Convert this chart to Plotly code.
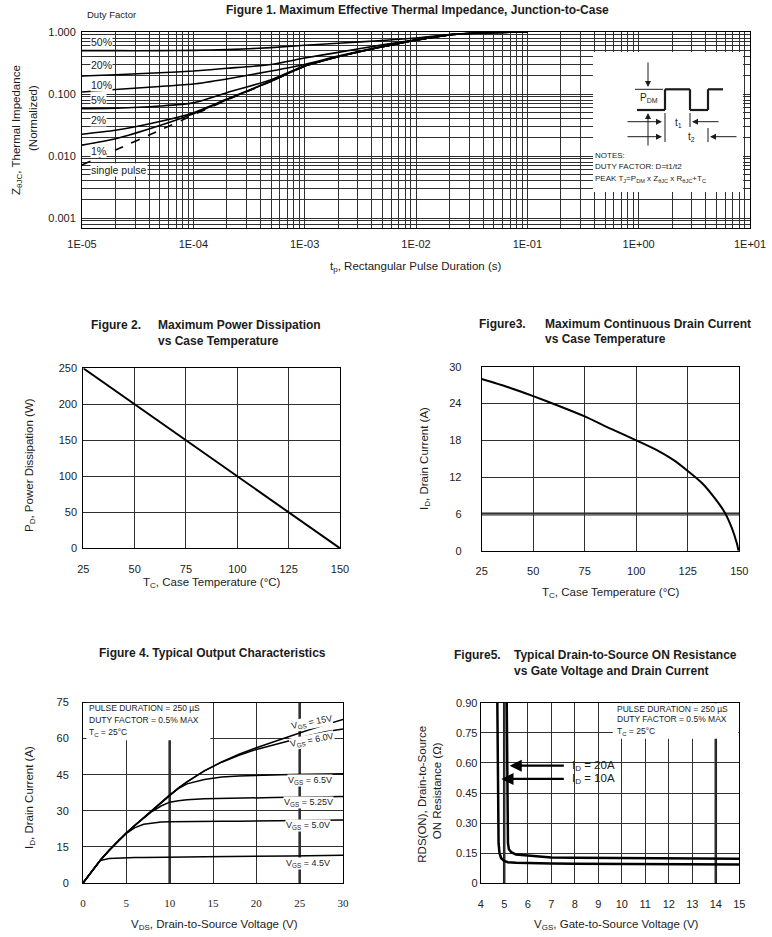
import plotly.graph_objects as go

W, H = 772, 937
FONT = "Liberation Sans"
SERIF = "Liberation Serif"
INK = "#1b1b1b"
GRID = "#303030"

# ---------------- Figure 1: transient thermal impedance ----------------
pulse_duration_s = [1e-5, 2e-5, 5e-5, 1e-4, 2e-4, 5e-4, 1e-3, 2e-3, 5e-3, 1e-2, 2e-2, 5e-2, 1e-1]
zth_d50 = [0.50, 0.50, 0.50, 0.505, 0.52, 0.56, 0.61, 0.66, 0.73, 0.80, 0.91, 0.98, 1.0]
zth_d20 = [0.195, 0.205, 0.22, 0.235, 0.26, 0.30, 0.38, 0.47, 0.62, 0.75, 0.90, 0.98, 1.0]
zth_d10 = [0.108, 0.118, 0.132, 0.145, 0.175, 0.235, 0.30, 0.41, 0.59, 0.745, 0.90, 0.98, 1.0]
zth_d05 = [0.058, 0.059, 0.064, 0.072, 0.105, 0.17, 0.285, 0.40, 0.58, 0.74, 0.90, 0.98, 1.0]
zth_d02 = [0.0225, 0.026, 0.036, 0.050, 0.083, 0.162, 0.282, 0.40, 0.58, 0.74, 0.90, 0.98, 1.0]
zth_d01 = [0.0150, 0.019, 0.031, 0.048, 0.081, 0.161, 0.281, 0.40, 0.58, 0.74, 0.90, 0.98, 1.0]
zth_single = [0.0072, 0.0125, 0.026, 0.046, 0.080, 0.16, 0.28, 0.40, 0.58, 0.74, 0.90, 0.98, 1.0]
duty_labels = ["50%", "20%", "10%", "5%", "2%", "1%", "single pulse"]
f1_xtick_vals = [1e-5, 1e-4, 1e-3, 1e-2, 1e-1, 1e0, 1e1]
f1_xtick_text = ["1E-05", "1E-04", "1E-03", "1E-02", "1E-01", "1E+00", "1E+01"]
f1_ytick_vals = [0.001, 0.01, 0.1, 1.0]
f1_ytick_text = ["0.001", "0.010", "0.100", "1.000"]

# ---------------- Figure 2: power dissipation ----------------
case_temp_pd = [25, 50, 75, 100, 125, 150]
power_diss_w = [250, 200, 150, 100, 50, 0]

# ---------------- Figure 3: max continuous drain current ----------------
case_temp_id = [25, 37.5, 50, 62.5, 75, 87.5, 100, 110, 118, 125, 132, 138, 143, 146.5, 148.8, 149.6]
drain_current_max = [28.0, 26.7, 25.2, 23.6, 21.9, 19.9, 18.0, 16.4, 14.8, 13.0, 11.0, 8.6, 6.2, 3.6, 1.2, 0.0]

# ---------------- Figure 4: output characteristics ----------------
vds_v = [0, 1, 2, 3, 4, 5, 6, 7, 8, 9, 10, 11, 12, 14, 16, 18, 20, 22, 24, 26, 28, 30]
id_vgs15 = [0, 4.8, 9.5, 13.5, 17.3, 20.8, 24.0, 27.1, 30.3, 33.5, 36.6, 39.4, 42.0, 46.6, 50.3, 53.5, 56.2, 58.7, 61.2, 63.6, 65.8, 68.0]
id_vgs60 = [0, 4.8, 9.5, 13.5, 17.3, 20.8, 24.0, 27.1, 30.3, 33.5, 36.6, 39.4, 42.0, 46.6, 50.2, 53.1, 55.5, 57.5, 59.4, 61.2, 62.8, 64.0]
id_vgs65 = [0, 4.8, 9.5, 13.5, 17.3, 20.8, 24.0, 27.1, 30.3, 33.5, 36.6, 39.2, 41.2, 43.0, 44.0, 44.5, 44.8, 45.0, 45.1, 45.2, 45.3, 45.4]
id_vgs525 = [0, 4.8, 9.5, 13.5, 17.3, 20.8, 24.0, 27.0, 29.8, 32.0, 33.6, 34.2, 34.6, 35.0, 35.2, 35.3, 35.4, 35.5, 35.6, 35.7, 35.8, 35.9]
id_vgs50 = [0, 4.8, 9.5, 13.5, 17.3, 20.6, 23.0, 24.4, 25.0, 25.3, 25.4, 25.5, 25.5, 25.6, 25.7, 25.7, 25.8, 25.9, 26.0, 26.0, 26.1, 26.2]
id_vgs45 = [0, 4.8, 9.3, 10.2, 10.4, 10.5, 10.6, 10.6, 10.7, 10.7, 10.7, 10.8, 10.8, 10.9, 10.9, 11.0, 11.0, 11.1, 11.2, 11.3, 11.4, 11.5]
vgs_labels = ["15V", "6.0V", "6.5V", "5.25V", "5.0V", "4.5V"]

# ---------------- Figure 5: on-resistance vs gate voltage ----------------
vgs_id10 = [4.70, 4.72, 4.74, 4.76, 4.80, 4.87, 5.0, 5.15, 5.5, 6, 7, 8, 9, 10, 11, 12, 13, 14, 15]
rds_id10 = [1.0, 0.60, 0.30, 0.20, 0.15, 0.125, 0.112, 0.105, 0.102, 0.100, 0.099, 0.098, 0.097, 0.097, 0.096, 0.096, 0.095, 0.095, 0.094]
vgs_id20 = [5.10, 5.12, 5.14, 5.16, 5.20, 5.30, 5.5, 6, 6.5, 7, 8, 9, 10, 11, 12, 13, 14, 15]
rds_id20 = [1.0, 0.60, 0.30, 0.20, 0.17, 0.155, 0.143, 0.138, 0.135, 0.129, 0.127, 0.126, 0.126, 0.125, 0.124, 0.123, 0.122, 0.122]
f5_ytick_vals = [0, 0.15, 0.30, 0.45, 0.60, 0.75, 0.90]
f5_ytick_text = ["0", "0.15", "0.30", "0.45", "0.60", "0.75", "0.90"]


def px(x):
    return x / W


def py(y):
    return 1 - y / H


fig = go.Figure()


def line(x, y, ax, width=1.6, shape="linear", dash="solid"):
    fig.add_trace(go.Scatter(
        x=x, y=y, xaxis="x" + ax, yaxis="y" + ax, mode="lines",
        line=dict(color="black", width=width, shape=shape, smoothing=0.6, dash=dash),
        showlegend=False, hoverinfo="skip"))


# Figure 1 traces
for z in [zth_d50, zth_d20, zth_d10, zth_d05, zth_d02, zth_d01]:
    line(pulse_duration_s, z, "", width=1.6, shape="spline")
line(pulse_duration_s, zth_single, "", width=1.6, shape="spline", dash="dash")
# Figure 2
line(case_temp_pd, power_diss_w, "2", width=2)
# Figure 3
line(case_temp_id, drain_current_max, "3", width=2, shape="spline")
# Figure 4
for cur in [id_vgs15, id_vgs60, id_vgs65, id_vgs525, id_vgs50, id_vgs45]:
    line(vds_v, cur, "4", width=1.5)
# Figure 5
line(vgs_id10, rds_id10, "5", width=2.5)
line(vgs_id20, rds_id20, "5", width=2.5)

common = dict(showline=True, mirror=True, linecolor="black", linewidth=1,
              showgrid=True, gridcolor=GRID, gridwidth=1, zeroline=False,
              ticks="", fixedrange=True, automargin=False,
              tickfont=dict(family=FONT, size=11, color=INK))

minor_x1 = [k * 10.0 ** e for e in range(-5, 1) for k in range(2, 10)]
minor_y1 = [k * 10.0 ** e for e in range(-4, 0) for k in range(2, 10) if k * 10.0 ** e > 6.9e-4]

layout = dict(
    width=W, height=H, autosize=False,
    margin=dict(l=0, r=0, t=0, b=0, pad=0, autoexpand=False),
    paper_bgcolor="white", plot_bgcolor="white", hovermode=False,
    xaxis=dict(domain=[px(82), px(750)], anchor="y", type="log", range=[-5, 1],
               tickvals=f1_xtick_vals, ticktext=f1_xtick_text, ticklabelstandoff=6,
               minor=dict(tickvals=minor_x1, showgrid=True, gridcolor=GRID, gridwidth=1),
               **common),
    yaxis=dict(domain=[py(228), py(32)], anchor="x", type="log", range=[-3.16, 0],
               tickvals=f1_ytick_vals, ticktext=f1_ytick_text, ticklabelstandoff=3,
               minor=dict(tickvals=minor_y1, showgrid=True, gridcolor=GRID, gridwidth=1),
               **common),
    xaxis2=dict(domain=[px(83.3), px(340)], anchor="y2", range=[25, 150], tick0=25, dtick=25,
                ticklabelstandoff=10, **common),
    yaxis2=dict(domain=[py(548.3), py(368.3)], anchor="x2", range=[0, 250], dtick=50,
                ticklabelstandoff=3, **common),
    xaxis3=dict(domain=[px(481.7), px(739.3)], anchor="y3", range=[25, 150], tick0=25, dtick=25,
                ticklabelstandoff=10, **common),
    yaxis3=dict(domain=[py(550.7), py(366.7)], anchor="x3", range=[0, 30], dtick=6,
                ticklabelstandoff=17, **common),
    xaxis4=dict(domain=[px(83), px(343)], anchor="y4", range=[0, 30], dtick=5,
                ticklabelstandoff=10,
                **{**common, "tickfont": dict(family=SERIF, size=11, color=INK)}),
    yaxis4=dict(domain=[py(883), py(702.5)], anchor="x4", range=[0, 75], dtick=15,
                ticklabelstandoff=11, **common),
    xaxis5=dict(domain=[px(480.7), px(739.3)], anchor="y5", range=[4, 15], dtick=1,
                ticklabelstandoff=10, **common),
    yaxis5=dict(domain=[py(883.3), py(702.7)], anchor="x5", range=[0, 0.9],
                tickvals=f5_ytick_vals, ticktext=f5_ytick_text, ticklabelstandoff=0, **common),
)

shapes = []
ann = []


def text(x, y, s, size=11, xanchor="center", bold=False, angle=0, bg=None, family=FONT):
    a = dict(xref="paper", yref="paper", x=px(x), y=py(y), text=("<b>%s</b>" % s) if bold else s,
             showarrow=False, xanchor=xanchor, yanchor="middle", textangle=angle,
             font=dict(size=size, family=family, color=INK), borderpad=0)
    if bg:
        a["bgcolor"] = bg
    ann.append(a)


def seg(x0, y0, x1, y1, w=1.0):
    shapes.append(dict(type="line", xref="paper", yref="paper", x0=px(x0), y0=py(y0),
                       x1=px(x1), y1=py(y1), line=dict(color=INK, width=w), layer="above"))


def arrow(hx, hy, tx, ty, w=1.0, size=1.2):
    ann.append(dict(xref="paper", yref="paper", x=px(hx), y=py(hy), ax=tx - hx, ay=ty - hy,
                    axref="pixel", ayref="pixel", text="", showarrow=True, arrowhead=2,
                    arrowsize=size, arrowwidth=w, arrowcolor=INK))


# ---- emphasized grid lines (under the regular grid) ----
shapes.append(dict(type="line", xref="x3 domain", yref="y3", x0=0, x1=1, y0=6, y1=6,
                   line=dict(color="#6e6e6e", width=3.5), layer="below"))
shapes.append(dict(type="line", xref="x4", yref="y4 domain", x0=10, x1=10, y0=0, y1=1,
                   line=dict(color="#222", width=2.5), layer="below"))
shapes.append(dict(type="line", xref="x4", yref="y4 domain", x0=25, x1=25, y0=0, y1=1,
                   line=dict(color="#222", width=2.5), layer="below"))
shapes.append(dict(type="line", xref="x5", yref="y5 domain", x0=5, x1=5, y0=0, y1=1,
                   line=dict(color="#222", width=2.5), layer="below"))
shapes.append(dict(type="line", xref="x5", yref="y5 domain", x0=14, x1=14, y0=0, y1=1,
                   line=dict(color="#222", width=2.5), layer="below"))
# ---- white boxes that hide the grid behind notes ----
shapes.append(dict(type="rect", xref="x domain", yref="y domain", x0=0.765, x1=0.9895,
                   y0=0.184, y1=0.898, fillcolor="white", line=dict(width=0), layer="above"))
shapes.append(dict(type="rect", xref="x4", yref="y4", x0=0.4, x1=14.7, y0=59.3, y1=74.85,
                   fillcolor="white", line=dict(width=0), layer="above"))
shapes.append(dict(type="rect", xref="x5", yref="y5", x0=9.62, x1=14.96, y0=0.72, y1=0.897,
                   fillcolor="white", line=dict(width=0), layer="above"))

# ---- Figure 1 texts ----
text(417, 10, "Figure 1. Maximum Effective Thermal Impedance, Junction-to-Case", 12, bold=True)
text(86, 15, "Duty Factor", 9.5, xanchor="left")
for lab, yy in zip(duty_labels, [42, 65, 85, 100, 120, 151, 170]):
    text(90, yy, lab, 10.5, xanchor="left", bg="white")
text(415, 267, "t<sub>p</sub>, Rectangular Pulse Duration (s)", 11.5)
text(17, 130, "Z<sub>θJC</sub>, Thermal Impedance", 11.5, angle=-90)
text(33, 118, "(Normalized)", 11.5, angle=-90)

# inset pulse diagram
seg(635, 89.3, 663, 89.3, 1)
for (a, b, c, d) in [(637, 110, 665, 110), (665, 110, 665, 89.3), (665, 89.3, 690, 89.3),
                     (690, 89.3, 690, 110), (690, 110, 708, 110), (708, 110, 708, 89.3),
                     (708, 89.3, 723, 89.3)]:
    seg(a, b, c, d, 2.2)
seg(665, 113, 665, 142, 1)
seg(690, 113, 690, 127, 1)
seg(708, 128, 708, 142, 1)
arrow(648, 87, 648, 61)
arrow(648, 113, 648, 147)
arrow(662, 121.7, 626, 121.7)
arrow(692, 121.7, 720, 121.7)
arrow(662, 136.7, 626, 136.7)
arrow(710, 136.7, 738, 136.7)
text(649, 98.3, "P<sub>DM</sub>", 10)
text(678, 123.3, "t<sub>1</sub>", 10)
text(691, 136.7, "t<sub>2</sub>", 10)
text(593.5, 156, "NOTES:", 8, xanchor="left")
text(593.5, 166.7, "DUTY FACTOR: D=t1/t2", 8, xanchor="left")
text(593.5, 179, "PEAK T<sub>J</sub>=P<sub>DM</sub> x Z<sub>θJC</sub> x R<sub>θJC</sub>+T<sub>C</sub>", 8, xanchor="left")

# ---- Figure 2 texts ----
text(90, 325, "Figure 2.", 12, xanchor="left", bold=True)
text(157, 325, "Maximum Power Dissipation", 12, xanchor="left", bold=True)
text(157, 340.7, "vs Case Temperature", 12, xanchor="left", bold=True)
text(212.5, 583, "T<sub>C</sub>, Case Temperature (°C)", 11.5)
text(30, 465, "P<sub>D</sub>, Power Dissipation (W)", 11.5, angle=-90)

# ---- Figure 3 texts ----
text(478.3, 324, "Figure3.", 12, xanchor="left", bold=True)
text(544, 324, "Maximum Continuous Drain Current", 12, xanchor="left", bold=True)
text(544, 339.3, "vs Case Temperature", 12, xanchor="left", bold=True)
text(610.5, 593, "T<sub>C</sub>, Case Temperature (°C)", 11.5)
text(425, 458, "I<sub>D</sub>, Drain Current (A)", 11.5, angle=-90)

# ---- Figure 4 texts ----
text(212.5, 653, "Figure 4. Typical Output Characteristics", 12, bold=True)
text(214, 925, "V<sub>DS</sub>, Drain-to-Source Voltage (V)", 11.5)
text(30, 798, "I<sub>D</sub>, Drain Current (A)", 11.5, angle=-90)
text(88, 708, "PULSE DURATION = 250 µS", 8.5, xanchor="left")
text(88, 719.7, "DUTY FACTOR = 0.5% MAX", 8.5, xanchor="left")
text(88, 732, "T<sub>C</sub> = 25°C", 8.5, xanchor="left")
for lab, xx, yy, ang in zip(vgs_labels, [26.4, 26.4, 26.2, 26.0, 26.0, 26.0],
                            [66.8, 59.2, 42.5, 33.3, 24.0, 8.0], [-11, -11, 0, 0, 0, 0]):
    ann.append(dict(xref="x4", yref="y4", x=xx, y=yy, text="V<sub>GS</sub> = " + lab,
                    showarrow=False, textangle=ang, bgcolor="white", borderpad=0,
                    font=dict(size=9, family=FONT, color=INK)))

# ---- Figure 5 texts ----
text(453.3, 655, "Figure5.", 12, xanchor="left", bold=True)
text(513.3, 655, "Typical Drain-to-Source ON Resistance", 12, xanchor="left", bold=True)
text(513.3, 670.7, "vs Gate Voltage and Drain Current", 12, xanchor="left", bold=True)
text(616.7, 925, "V<sub>GS</sub>, Gate-to-Source Voltage (V)", 11.5)
text(421.7, 794, "RDS(ON), Drain-to-Source", 11.5, angle=-90)
text(436.7, 790.5, "ON Resistance (Ω)", 11.5, angle=-90)
text(616.3, 709.3, "PULSE DURATION = 250 µS", 8.5, xanchor="left")
text(616.3, 719.3, "DUTY FACTOR = 0.5% MAX", 8.5, xanchor="left")
text(616.3, 731.7, "T<sub>C</sub> = 25°C", 8.5, xanchor="left")
for lab, yy, head in [("20A", 0.586, 5.23), ("10A", 0.52, 4.88)]:
    ann.append(dict(xref="x5", yref="y5", x=head, y=yy, axref="x5", ayref="y5", ax=7.6, ay=yy,
                    text="", showarrow=True, arrowhead=2, arrowsize=1.1, arrowwidth=2.2,
                    arrowcolor="black"))
    ann.append(dict(xref="x5", yref="y5", x=7.82, y=yy, xanchor="left", showarrow=False,
                    text="I<sub>D</sub> = " + lab, font=dict(size=11.5, family=FONT, color=INK)))

layout["shapes"] = shapes
layout["annotations"] = ann
fig.update_layout(**layout)

fig.write_html("out.html", config={"displayModeBar": False},
               post_script="document.body.style.margin='0px';")
